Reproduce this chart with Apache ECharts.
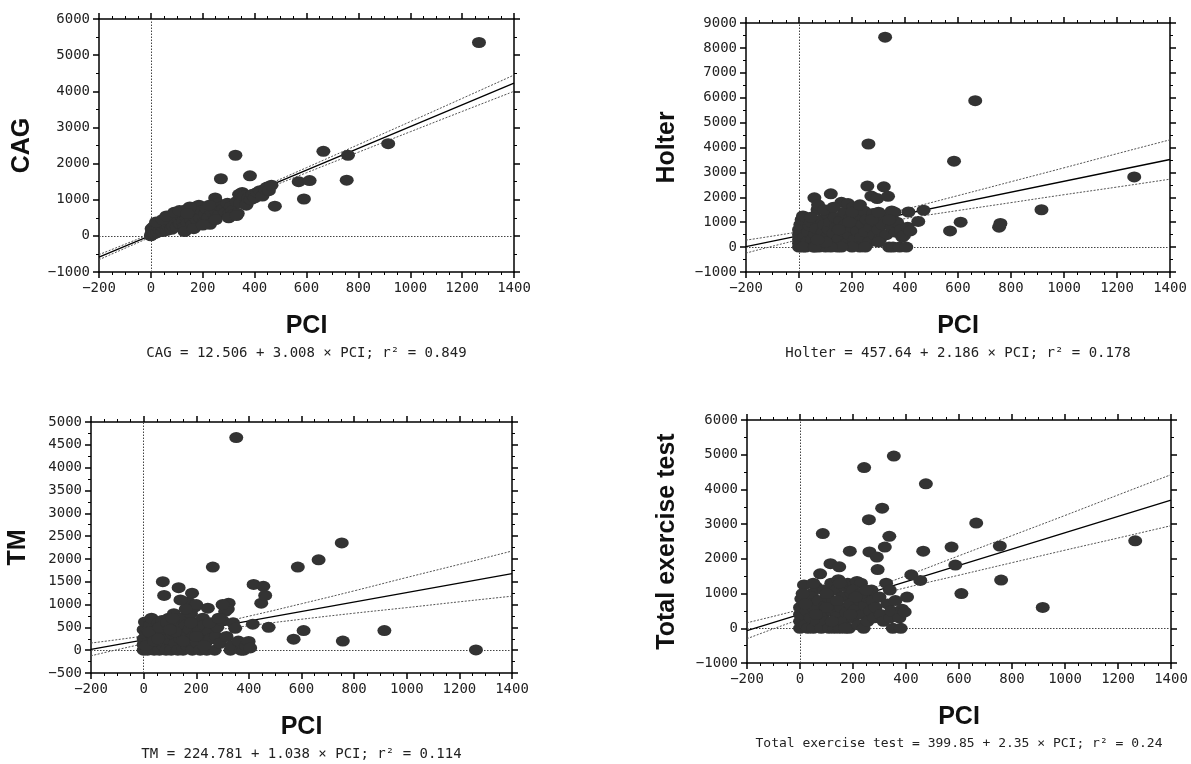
<!DOCTYPE html>
<html><head><meta charset="utf-8">
<script src="https://cdn.jsdelivr.net/npm/echarts@6/dist/echarts.min.js"></script>
<style>html,body{margin:0;padding:0;background:#fff}#c{width:1191px;height:764px}</style>
</head><body><div id="c"></div>
<script>
// ---------- data ----------
const pciTicks = [-200, 0, 200, 400, 600, 800, 1000, 1200, 1400];
const cagTicks = [-1000, 0, 1000, 2000, 3000, 4000, 5000, 6000];
const holterTicks = [-1000, 0, 1000, 2000, 3000, 4000, 5000, 6000, 7000, 8000, 9000];
const tmTicks = [-500, 0, 500, 1000, 1500, 2000, 2500, 3000, 3500, 4000, 4500, 5000];
const totalTicks = [-1000, 0, 1000, 2000, 3000, 4000, 5000, 6000];

const cagPoints = [[0,0],[2,50],[5,120],[3,200],[8,80],[10,250],[12,150],[15,60],[18,300],[20,180],[25,100],[28,320],[30,220],[35,150],[40,350],[42,260],[45,120],[50,200],[55,300],[60,400],[62,150],[68,250],[72,450],[75,330],[80,180],[85,280],[90,500],[95,380],[100,250],[102,600],[108,450],[112,330],[118,550],[120,680],[125,400],[130,250],[135,720],[138,500],[142,350],[150,600],[155,450],[160,300],[165,550],[170,800],[175,650],[180,420],[185,850],[190,500],[198,700],[205,380],[210,600],[215,750],[222,500],[228,320],[235,650],[240,800],[248,1050],[252,700],[258,900],[265,600],[272,800],[280,750],[288,650],[295,900],[302,600],[308,800],[315,700],[322,600],[330,950],[335,620],[340,1150],[345,900],[352,1200],[360,1100],[368,850],[375,1050],[385,1000],[392,1150],[400,1050],[410,1200],[420,1250],[430,1100],[440,1300],[448,1350],[455,1250],[465,1400],[478,820],[270,1580],[326,2230],[382,1660],[570,1500],[612,1530],[590,1020],[665,2340],[760,2230],[755,1540],[915,2550],[1265,5350],[20,380],[45,450],[60,550],[90,650],[130,120],[150,800],[165,200],[200,300],[250,450],[300,500],[330,560],[110,700],[140,620],[225,850]];
const holterPoints = [[0,0],[0,150],[0,300],[0,500],[0,700],[5,900],[10,1100],[15,1250],[20,400],[25,0],[30,200],[35,600],[40,850],[45,1000],[50,300],[55,0],[58,1980],[60,500],[65,750],[70,1500],[72,1700],[75,0],[80,250],[85,1100],[90,600],[95,900],[100,0],[105,400],[108,1300],[112,700],[118,1000],[120,2140],[125,200],[130,550],[135,1200],[140,800],[145,0],[150,350],[155,1050],[160,1800],[165,650],[170,1400],[175,900],[180,150],[185,1750],[190,500],[195,1200],[200,800],[205,1600],[210,300],[215,1000],[220,650],[225,1300],[230,0],[235,400],[240,900],[245,1450],[250,600],[255,1100],[258,2450],[262,4140],[265,200],[270,800],[273,2050],[280,1350],[285,500],[290,1000],[295,1950],[300,700],[305,300],[310,1200],[315,900],[320,2420],[325,8430],[330,500],[336,2040],[340,0],[345,1300],[350,800],[355,0],[360,1400],[365,600],[370,1000],[380,0],[385,700],[390,400],[396,470],[405,0],[410,800],[413,1410],[420,650],[450,1030],[470,1480],[570,650],[585,3450],[610,1000],[665,5880],[755,800],[760,950],[915,1500],[1265,2820],[15,0],[45,1200],[95,1500],[130,1600],[200,1400],[230,1700],[275,1100],[300,1400],[350,1450],[340,1100],[300,200],[250,0],[200,0],[160,0],[120,0],[60,0],[190,1000],[100,200],[70,300],[150,700]];
const tmPoints = [[0,0],[0,120],[0,250],[0,450],[5,620],[10,350],[15,0],[20,180],[25,550],[30,700],[35,300],[40,0],[45,420],[50,150],[55,600],[60,0],[65,300],[70,650],[73,1500],[75,100],[78,1200],[80,450],[85,0],[90,250],[95,700],[100,550],[105,0],[110,350],[115,800],[120,150],[125,600],[130,0],[133,1370],[135,450],[140,250],[145,700],[150,0],[155,350],[160,550],[165,100],[170,1060],[175,450],[180,800],[184,1250],[185,0],[190,300],[195,950],[200,600],[205,150],[210,450],[215,0],[220,300],[225,700],[230,550],[235,150],[240,0],[244,920],[250,400],[255,250],[263,1820],[265,600],[270,0],[275,300],[280,500],[290,150],[300,650],[310,850],[315,300],[323,1030],[330,0],[335,100],[340,600],[348,480],[352,4660],[360,200],[370,0],[380,0],[390,100],[399,190],[405,50],[415,570],[418,1440],[447,1030],[455,1400],[462,1200],[475,500],[570,240],[586,1820],[608,430],[665,1980],[753,2350],[757,200],[915,430],[1263,5],[10,100],[20,400],[40,200],[60,500],[90,600],[120,400],[150,200],[180,600],[200,300],[230,100],[250,600],[285,700],[320,900],[300,1000],[200,1000],[160,900],[110,700],[140,1100],[100,450],[55,250]];
const totalPoints = [[0,0],[0,200],[0,400],[0,600],[5,850],[15,1250],[20,100],[25,500],[30,0],[35,750],[40,300],[45,1000],[50,0],[55,550],[60,1200],[65,200],[70,800],[76,1570],[80,0],[85,400],[86,2730],[90,1100],[95,650],[100,200],[105,900],[110,0],[115,1860],[118,1300],[120,500],[125,750],[130,0],[135,1100],[140,350],[145,1400],[148,1770],[150,0],[155,600],[160,900],[165,200],[170,1200],[175,450],[180,1300],[185,0],[188,2220],[190,700],[195,1000],[200,300],[205,1250],[210,550],[215,1350],[220,100],[225,800],[230,1300],[235,400],[240,0],[242,4630],[245,650],[250,900],[255,200],[260,3130],[262,2200],[265,500],[270,1100],[275,800],[280,300],[285,600],[290,2050],[293,1690],[300,900],[305,400],[310,3460],[315,200],[320,2340],[325,1300],[330,700],[337,2650],[339,1100],[340,300],[345,500],[350,0],[354,4960],[360,800],[375,300],[380,0],[385,550],[395,470],[404,900],[420,1540],[454,1380],[465,2220],[475,4160],[572,2340],[586,1820],[609,1000],[665,3030],[754,2370],[759,1390],[916,600],[1265,2520],[10,1000],[50,1300],[100,1000],[150,1300],[200,1100],[100,600],[60,400],[140,800],[190,400],[230,1000],[20,700],[120,200],[170,0],[210,900],[250,1100]];

// regression line end points (from the printed equations)
const cagFit = [[-200,-589],[1400,4224]];
const holterFit = [[-200,20],[1400,3518]];
const tmFit = [[-200,17],[1400,1678]];
const totalFit = [[-200,-70],[1400,3690]];

// confidence band values read at the PCI tick positions
const bandX = [-200, 0, 200, 400, 600, 800, 1000, 1200, 1400];
const cagUpper = [-519, 58, 649, 1261, 1887, 2524, 3160, 3802, 4449];
const cagLower = [-659, -32, 579, 1171, 1747, 2314, 2880, 3442, 3999];
const holterUpper = [280, 618, 1015, 1522, 2069, 2626, 3184, 3751, 4308];
const holterLower = [-240, 298, 775, 1142, 1469, 1786, 2104, 2411, 2728];
const tmUpper = [157, 310, 492, 745, 1018, 1300, 1593, 1880, 2173];
const tmLower = [-123, 140, 372, 535, 678, 810, 933, 1060, 1183];
const totalUpper = [160, 540, 970, 1510, 2090, 2670, 3250, 3840, 4425];
const totalLower = [-300, 260, 770, 1170, 1530, 1890, 2250, 2600, 2955];

const yNames = ['CAG', 'Holter', 'TM', 'Total exercise test'];
const equations = [
  'CAG = 12.506 + 3.008 × PCI; r² = 0.849',
  'Holter = 457.64 + 2.186 × PCI; r² = 0.178',
  'TM = 224.781 + 1.038 × PCI; r² = 0.114',
  'Total exercise test = 399.85 + 2.35 × PCI; r² = 0.24'
];

// ---------- layout ----------
const grids = [
  {left: 99, top: 19, width: 415, height: 253},
  {left: 746, top: 23, width: 424, height: 249},
  {left: 91, top: 422, width: 421, height: 251},
  {left: 747, top: 420, width: 424, height: 243}
];
const eqFontSizes = [14, 14, 14, 13];
const yTickSets = [cagTicks, holterTicks, tmTicks, totalTicks];
const pointSets = [cagPoints, holterPoints, tmPoints, totalPoints];
const fitSets = [cagFit, holterFit, tmFit, totalFit];
const upperSets = [cagUpper, holterUpper, tmUpper, totalUpper];
const lowerSets = [cagLower, holterLower, tmLower, totalLower];
const yNameGaps = [64, 66, 60, 67];

const MONO = '"DejaVu Sans Mono", "Liberation Mono", monospace';
const BOLD = '"Liberation Sans", Arial, sans-serif';
const fmt = v => String(v).replace('-', '\u2212');

const xAxis = [], yAxis = [], series = [], graphic = [];
grids.forEach((g, i) => {
  const yt = yTickSets[i];
  const common = {
    axisLine: {show: true, onZero: false, lineStyle: {color: '#000', width: 1.5}},
    axisTick: {show: true, length: 6, lineStyle: {color: '#000', width: 1.5}},
    minorTick: {show: true, length: 3, lineStyle: {color: '#000', width: 1}},
    splitLine: {show: false}
  };
  const xBase = Object.assign({type: 'value', gridIndex: i, min: pciTicks[0], max: pciTicks[pciTicks.length - 1],
    interval: pciTicks[1] - pciTicks[0]}, common);
  xBase.minorTick = Object.assign({}, common.minorTick, {splitNumber: 4});
  xAxis.push(Object.assign({}, xBase, {position: 'bottom',
    name: 'PCI', nameLocation: 'middle', nameGap: 42,
    nameTextStyle: {fontFamily: BOLD, fontWeight: 'bold', fontSize: 25, color: '#111'},
    axisLabel: {show: true, margin: 9, fontFamily: MONO, fontSize: 14, color: '#222', formatter: fmt}}));
  xAxis.push(Object.assign({}, xBase, {position: 'top', axisLabel: {show: false}}));
  const yBase = Object.assign({type: 'value', gridIndex: i, min: yt[0], max: yt[yt.length - 1],
    interval: yt[1] - yt[0]}, common);
  yBase.minorTick = Object.assign({}, common.minorTick, {splitNumber: 2});
  yAxis.push(Object.assign({}, yBase, {position: 'left',
    name: yNames[i], nameLocation: 'middle', nameGap: yNameGaps[i],
    nameTextStyle: {fontFamily: BOLD, fontWeight: 'bold', fontSize: 25, color: '#111'},
    axisLabel: {show: true, margin: 9, fontFamily: MONO, fontSize: 14, color: '#222', formatter: fmt}}));
  yAxis.push(Object.assign({}, yBase, {position: 'right', axisLabel: {show: false}}));

  const xi = i * 2, yi = i * 2;
  series.push({type: 'line', xAxisIndex: xi, yAxisIndex: yi, data: fitSets[i], symbol: 'none',
    lineStyle: {color: '#000', width: 1.3}, z: 2, silent: true});
  series.push({type: 'line', xAxisIndex: xi, yAxisIndex: yi, data: bandX.map((x, k) => [x, upperSets[i][k]]),
    symbol: 'none', smooth: true, lineStyle: {color: '#555', width: 1, type: [2, 1.5]}, z: 2, silent: true});
  series.push({type: 'line', xAxisIndex: xi, yAxisIndex: yi, data: bandX.map((x, k) => [x, lowerSets[i][k]]),
    symbol: 'none', smooth: true, lineStyle: {color: '#555', width: 1, type: [2, 1.5]}, z: 2, silent: true});
  series.push({type: 'scatter', xAxisIndex: xi, yAxisIndex: yi, data: pointSets[i],
    symbol: 'circle', symbolSize: [14, 11], itemStyle: {color: '#333', opacity: 1}, z: 3,
    markLine: {silent: true, symbol: 'none', label: {show: false}, z: 1,
      lineStyle: {color: '#444', width: 1, type: [1.5, 1.5]},
      data: [{xAxis: 0}, {yAxis: 0}]}});
  graphic.push({x: g.left + g.width / 2, y: g.top + g.height + 81,
    style: {text: equations[i], font: eqFontSizes[i] + 'px ' + MONO, fill: '#222', textAlign: 'center', textVerticalAlign: 'middle'}});
});

const chart = echarts.init(document.getElementById('c'), null, {renderer: 'canvas'});
chart.setOption({
  animation: false,
  backgroundColor: '#fff',
  grid: grids.map(g => Object.assign({containLabel: false}, g)),
  xAxis, yAxis, series,
  graphic: graphic.map(t => ({type: 'text', x: t.x, y: t.y, style: t.style}))
});
</script></body></html>
